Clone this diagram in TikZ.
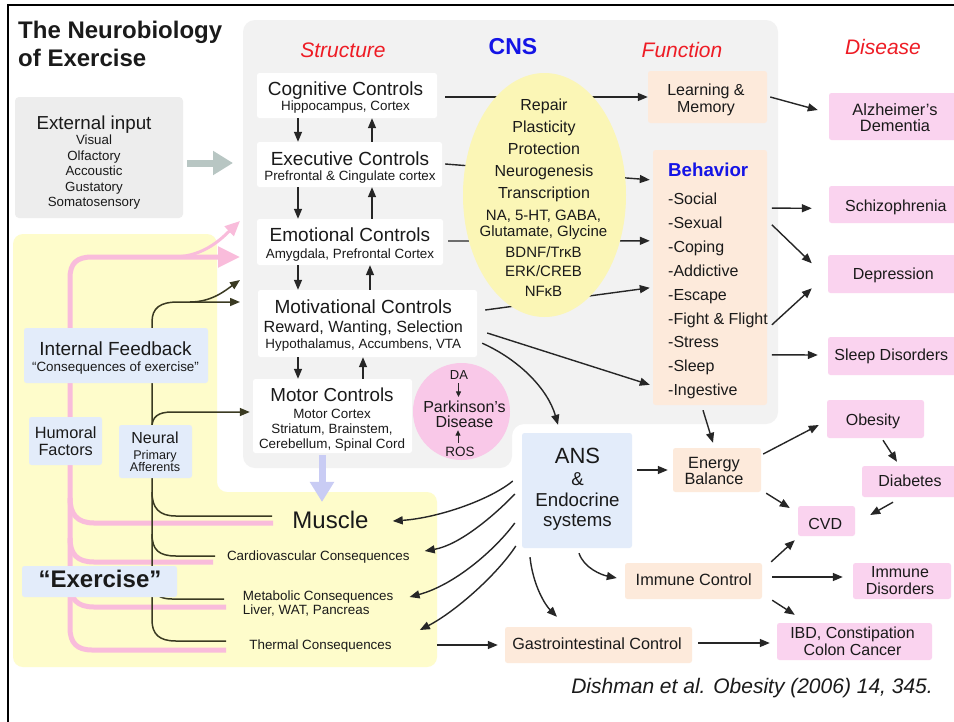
\documentclass[tikz,border=0pt]{standalone}
\usepackage{fontspec}
\setmainfont{Liberation Sans}
\usetikzlibrary{arrows.meta,calc,shapes.geometric}
\newcommand\myfs[2]{\fontsize{#1pt}{#2pt}\selectfont}
\newcommand\tightlines{\lineskiplimit=-30pt\relax}
\definecolor{panelgray}{HTML}{F2F2F2}
\definecolor{extgray}{HTML}{EDEDED}
\definecolor{ylw}{HTML}{FEFCCB}
\definecolor{ellip}{HTML}{FBF6B6}
\definecolor{peach}{HTML}{FDEADB}
\definecolor{pinkbox}{HTML}{FAD3EF}
\definecolor{lblue}{HTML}{E3ECFA}
\definecolor{parkpink}{HTML}{F9C8E8}
\definecolor{pinkline}{HTML}{F9BCDB}
\definecolor{greyarr}{HTML}{B8C6C3}
\definecolor{lavarr}{HTML}{C9CCF4}
\definecolor{headred}{HTML}{EE1C25}
\definecolor{headblue}{HTML}{1414E6}
\definecolor{txt}{HTML}{1A1A1A}
\definecolor{neur}{HTML}{3A3A22}
\begin{document}
\begin{tikzpicture}[x=1pt,y=-1pt,
  bx/.style={rectangle, rounded corners=2.5pt, inner sep=0pt, draw=none},
  boxsize/.style 2 args={minimum width=#1pt, minimum height=#2pt},
  sbox/.style={bx, fill=white},
  fbox/.style={bx, fill=peach},
  dbox/.style={bx, fill=pinkbox},
  bbox/.style={bx, fill=lblue},
  tx/.style={inner sep=0pt, align=center, text=txt},
  arr/.style={draw=black!85, line width=1.4pt, -{Triangle[length=10pt,width=8pt]}},
  sarr/.style={draw=black!85, line width=1pt, -{Triangle[length=5.5pt,width=5pt]}},
  nln/.style={draw=neur, line width=1.5pt},
  narr/.style={nln, -{Triangle[length=10pt,width=8pt]}},
  pln/.style={draw=pinkline, line width=5pt},
  head/.style={inner sep=0pt, font=\itshape\myfs{21}{21}, text=headred},
]
\useasboundingbox (0,0) rectangle (954,721);
\fill[white] (0,0) rectangle (954,721);
\draw[line width=2.2pt] (960,5) -- (8,5) -- (8,730);

% panels
\fill[panelgray, rounded corners=12pt] (243,20) -- (778,20) -- (778,424) -- (512,424) -- (512,468) -- (243,468) -- cycle;
\fill[ylw, rounded corners=10pt] (13,234) -- (217,234) -- (217,492) -- (437,492) -- (437,667) -- (13,667) -- cycle;

% title and headings
\node[tx, align=left, anchor=west, font=\bfseries\myfs{24}{28}] (title) at (18,43.9) {The Neurobiology\\of Exercise};
\node[head] (hstruct) at (343,50) {Structure};
\node[inner sep=0pt, font=\bfseries\myfs{23}{23}, text=headblue] (hcns) at (513,46.7) {CNS};
\node[head] (hfunc) at (682,49.5) {Function};
\node[head] (hdis) at (883,46.7) {Disease};

% external input
\node[bx, fill=extgray, rounded corners=4pt, boxsize={168}{121}] (ext) at (99,157.5) {};
\node[tx, font=\myfs{13.3}{15.4}] (extT) at (94,162.5) {{\myfs{18.8}{18.8}External input}\\Visual\\Olfactory\\Accoustic\\Gustatory\\Somatosensory};
\coordinate (gA) at (233,163);
\draw[draw=greyarr, line width=7pt, -{Triangle[length=20pt,width=23pt]}] ($(ext.east)+(4,5.5)$) -- (gA);

% structure boxes
\node[sbox, boxsize={180}{45}] (cog) at (347,95.5) {};
\node[tx, font=\myfs{13.4}{15}] (cogT) at (345.5,97.8) {{\myfs{19}{19}Cognitive Controls}\\Hippocampus, Cortex};
\node[sbox, boxsize={185}{45}] (exe) at (349.5,164.5) {};
\node[tx, font=\myfs{13.4}{15.4}] (exeT) at (350,167.3) {{\myfs{19}{19}Executive Controls}\\Prefrontal \& Cingulate cortex};
\node[sbox, boxsize={186}{46}] (emo) at (350,242) {};
\node[tx, font=\myfs{13.4}{16.3}] (emoT) at (350,244.4) {{\myfs{19}{19}Emotional Controls}\\Amygdala, Prefrontal Cortex};
\node[sbox, boxsize={219}{67}] (mot) at (367.5,323.5) {};
\node[tx, font=\myfs{13.4}{15.6}] (motT) at (363.3,325.3) {{\myfs{19}{19}Motivational Controls}\\[3.4pt]{\myfs{16.2}{16.2}Reward, Wanting, Selection}\\Hypothalamus, Accumbens, VTA};
\node[sbox, boxsize={159}{74}] (motor) at (332.5,416) {};
\node[tx, font=\myfs{13.4}{15.3}] (motorT) at (332,419.8) {{\myfs{18.8}{18.8}Motor Controls}\\[1.1pt]Motor Cortex\\Striatum, Brainstem,\\Cerebellum, Spinal Cord};

% function boxes
\node[fbox, boxsize={119}{52}] (lm) at (707.5,97) {};
\node[tx, font=\myfs{16}{17}] (lmT) at (706,100) {Learning \&\\Memory};
\node[fbox, boxsize={114}{255}] (beh) at (710,277.5) {};
\node[tx, align=left, anchor=west, font=\myfs{16}{23.9}] (behT) at (668,281) {{\bfseries\color{headblue}\myfs{18.7}{18.7}Behavior}\\[4.1pt]-Social\\-Sexual\\-Coping\\-Addictive\\-Escape\\-Fight \& Flight\\-Stress\\-Sleep\\-Ingestive};
\node[bbox, boxsize={110}{115}] (ans) at (577,490.5) {};
\node[tx, font=\myfs{18.7}{20.3}] (ansT) at (577.5,489.3) {{\myfs{22}{22}ANS}\\[1.8pt]\&\\Endocrine\\systems};
\node[fbox, boxsize={88}{44}] (eb) at (717,470) {};
\node[tx, font=\myfs{16.3}{16}] (ebT) at (714,471) {Energy\\Balance};
\node[fbox, boxsize={137}{36}] (imm) at (693.5,581) {};
\node[tx, font=\myfs{16.3}{16.3}] (immT) at (693.7,580) {Immune Control};
\node[fbox, boxsize={187}{36}] (gas) at (598.5,645) {};
\node[tx, font=\myfs{16.2}{16.2}] (gasT) at (597,643.3) {Gastrointestinal Control};

% disease boxes
\node[dbox, boxsize={129}{47}] (alz) at (893.5,116.5) {};
\node[tx, font=\myfs{16.4}{16.7}] (alzT) at (895,117.5) {Alzheimer's\\Dementia};
\node[dbox, boxsize={129}{37}] (sch) at (893.5,204.5) {};
\node[tx, font=\myfs{16}{16}] (schT) at (895.8,207.6) {Schizophrenia};
\node[dbox, boxsize={130}{38}] (dep) at (893,274) {};
\node[tx, font=\myfs{16}{16}] (depT) at (893.3,275) {Depression};
\node[dbox, boxsize={130}{38}] (slp) at (893,356) {};
\node[tx, font=\myfs{16}{16}] (slpT) at (891.3,356) {Sleep Disorders};
\node[dbox, boxsize={97}{38}] (obe) at (875.5,419) {};
\node[tx, font=\myfs{16}{16}] (obeT) at (873,421.6) {Obesity};
\node[dbox, boxsize={96}{31}] (dia) at (910,481.5) {};
\node[tx, font=\myfs{16}{16}] (diaT) at (910,481) {Diabetes};
\node[dbox, boxsize={57}{30}] (cvd) at (826.5,521) {};
\node[tx, font=\myfs{16}{16}] (cvdT) at (825.3,524.3) {CVD};
\node[dbox, boxsize={98}{36}] (imd) at (902,581) {};
\node[tx, font=\myfs{16}{16.7}] (imdT) at (900,580.5) {Immune\\Disorders};
\node[dbox, boxsize={155}{37}] (ibd) at (854.5,641.5) {};
\node[tx, font=\myfs{16}{16.7}] (ibdT) at (852.5,641.5) {IBD, Constipation\\Colon Cancer};

% muscle panel texts
\node[tx, font=\myfs{24}{24}] (muscle) at (330.5,520) {Muscle};
\node[tx, font=\myfs{13.4}{13.4}] (cardio) at (318.3,557) {Cardiovascular Consequences};
\node[tx, align=left, anchor=west, font=\myfs{13.4}{14}] (meta) at (242.7,603.5) {Metabolic Consequences\\Liver, WAT, Pancreas};
\node[tx, font=\myfs{13.4}{13.4}] (thermal) at (320.5,645.6) {Thermal Consequences};

% pink lines (humoral)
\coordinate (pA) at (240,257);
\coordinate (pB) at (240,221);
\draw[pln, -{Triangle[length=22pt,width=20pt]}] (226,650) -- (92,650) .. controls (77,650) and (70,643) .. (70,628) -- (70,278) .. controls (70,263) and (77,257) .. (92,257) -- (pA);
\draw[draw=pinkline, line width=3pt, -{Triangle[length=15pt,width=13pt]}] (175,257) .. controls (205,256) and (222,238) .. (pB);
\draw[pln] (70,498) .. controls (70,514) and (77,523) .. (94,523) -- (273,523);
\draw[pln] (70,538) .. controls (70,554) and (77,562) .. (94,562) -- (213,562);
\draw[pln] (70,583) .. controls (70,599) and (77,607) .. (94,607) -- (226,607);

% neural lines
\coordinate (nA) at (240,302);
\coordinate (nB) at (240,280);
\draw[narr] (226,641) -- (176,641) .. controls (159,641) and (152,634) .. (152,620) -- (152,322) .. controls (152,308) and (160,302) .. (178,302) -- (nA);
\draw[narr] (190,302) .. controls (212,302) and (226,290) .. (nB);
\draw[narr] (152,427) .. controls (152,417) and (158,412) .. (172,412) -- ($(motor.west)+(-3,-4)$);
\draw[nln] (152,492) .. controls (152,508) and (159,516) .. (176,516) -- (272,516);
\draw[nln] (152,534) .. controls (152,550) and (159,556) .. (176,556) -- (215,556);
\draw[nln] (152,580) .. controls (152,593) and (158,599) .. (172,599) -- (224,599);

% left boxes
\node[bbox, boxsize={184}{55}] (ifb) at (116,355.5) {};
\node[tx, font=\myfs{13.4}{16.4}] (ifbT) at (115.5,357.8) {{\myfs{19}{19}Internal Feedback}\\“Consequences of exercise”};
\node[bbox, boxsize={73}{48}] (hum) at (65.5,441) {};
\node[tx, font=\myfs{16.3}{17}] (humT) at (65.7,440.7) {Humoral\\Factors};
\node[bbox, boxsize={73}{53}] (neu) at (155.5,451.5) {};
\node[tx, font=\tightlines\myfs{12.6}{11.7}] (neuT) at (155,451.8) {{\myfs{16}{16}Neural}\\[4.5pt]Primary\\Afferents};
\node[bbox, boxsize={155}{31}] (exb) at (99.5,581.5) {};
\node[tx, font=\bfseries\myfs{24}{24}] (exT) at (100,579.3) {“Exercise”};

% motor -> muscle
\draw[draw=lavarr, line width=7pt, -{Triangle[length=20pt,width=23pt]}] ($(motor.south)+(-10.5,2)$) -- ($(muscle.north)+(-8.5,-9)$);

% structure vertical arrows
\coordinate (xd) at (298,0);
\coordinate (xu1) at (372,0);
\coordinate (xu2) at (370,0);
\coordinate (xu3) at (363,0);
\draw[arr] (cog.south -| xd) -- (exe.north -| xd);
\draw[arr] (exe.north -| xu1) -- (cog.south -| xu1);
\draw[arr] (exe.south -| xd) -- (emo.north -| xd);
\draw[arr] (emo.north -| xu1) -- (exe.south -| xu1);
\draw[arr] (emo.south -| xd) -- (mot.north -| xd);
\draw[arr] (mot.north -| xu2) -- (emo.south -| xu2);
\draw[arr] (mot.south -| xd) -- (motor.north -| xd);
\draw[arr] (motor.north -| xu3) -- (mot.south -| xu3);

% structure -> function
\draw[arr] ($(cog.east)+(8,1.5)$) -- (lm.west);
\draw[arr] ($(exe.east)+(3,-0.5)$) -- ($(beh.north west)+(-3,30)$);
\draw[arr] ($(emo.east)+(5,-1)$) -- ($(beh.north west)+(-3,91)$);
\draw[arr] ($(mot.east)+(8,-13.5)$) -- ($(beh.north west)+(-3,138)$);
\draw[arr] ($(mot.east)+(10,9.5)$) -- ($(beh.north west)+(-3,235)$);
\draw[arr] ($(mot.south east)+(5,-14)$) .. controls +(38,17) and +(-10,-35) .. ($(ans.north)+(-19,-8)$);

% CNS ellipse
\node[ellipse, fill=ellip, minimum width=163pt, minimum height=244pt, inner sep=0pt] (ell) at (544.5,195) {};
\node[tx, font=\myfs{16}{22}] (ellT1) at (544,150.5) {Repair\\Plasticity\\Protection\\Neurogenesis\\Transcription};
\node[tx, font=\myfs{15}{19.5}] (ellT2) at (543.5,253) {NA, 5-HT, GABA,\\[-3.5pt]Glutamate, Glycine\\[1.5pt]BDNF/TrκB\\[-0.5pt]ERK/CREB\\[0.5pt]NFκB};

% Parkinson
\node[circle, fill=parkpink, minimum size=97pt, inner sep=0pt] (park) at (461.5,411.5) {};
\node[tx, font=\myfs{13}{13}] (da) at (459,375) {DA};
\node[tx, font=\myfs{16}{15}] (parkT) at (464.5,414) {Parkinson's\\Disease};
\node[tx, font=\myfs{13.5}{13.5}] (ros) at (460,451.7) {ROS};
\draw[sarr] ($(da.south)+(-0.5,3.5)$) -- ($(parkT.north)+(-6,-3.5)$);
\draw[sarr] ($(ros.north)+(-2,-3.9)$) -- ($(parkT.south)+(-6.5,2.6)$);

% function -> disease
\draw[arr] ($(lm.east)+(3,0)$) -- ($(alz.west)+(-11,-6.5)$);
\draw[arr] ($(beh.north east)+(4.7,58.3)$) -- ($(sch.west)+(-17,3.8)$);
\draw[arr] ($(beh.north east)+(4.7,75)$) -- ($(dep.west)+(-16,-10.7)$);
\draw[arr] ($(beh.north east)+(4.7,175)$) -- ($(dep.west)+(-16,14.3)$);
\draw[arr] ($(beh.north east)+(4.7,205)$) -- ($(slp.west)+(-10,-1)$);
\draw[arr] ($(beh.south)+(-7,5)$) -- ($(eb.north)+(-4,-5)$);

% ANS outputs
\draw[arr] ($(ans.east)+(5,-20.5)$) -- ($(eb.west)+(-5,0)$);
\draw[arr] ($(ans.west)+(-9,-9.5)$) .. controls +(-23,19) and +(45,-3) .. ($(muscle.east)+(24,1)$);
\draw[arr] ($(ans.west)+(-7,3.5)$) .. controls +(-20,21) and +(35,-6) .. ($(cardio.east)+(15,-6)$);
\draw[arr] ($(ans.west)+(-7,32.5)$) .. controls +(-20,27) and +(45,-12) .. ($(meta.east)+(16,-6.5)$);
\draw[arr] ($(ans.west)+(-6,55.5)$) .. controls +(-19,29) and +(35,-18) .. ($(thermal.east)+(28,-15.6)$);
\draw[arr] ($(ans.south)+(-47,9)$) .. controls +(3,28) and +(-12,-12) .. ($(gas.north)+(-41.5,-10)$);
\draw[arr] ($(ans.south)+(2,5)$) .. controls +(5,15) and +(-15,-3) .. ($(imm.west)+(-8,-3)$);
\draw[arr] ($(thermal.east)+(45,-0.6)$) -- ($(gas.west)+(-7,0)$);

% lower function -> disease
\draw[arr] ($(eb.east)+(2,-16)$) -- ($(obe.west)+(-8,6)$);
\draw[arr] ($(eb.south east)+(5,1)$) -- ($(cvd.west)+(-8,-13)$);
\draw[arr] ($(obe.south)+(7.5,2)$) -- ($(dia.north)+(-13,-4)$);
\draw[arr] ($(dia.south)+(-17,5)$) -- ($(cvd.east)+(15,-6)$);
\draw[arr] ($(imm.north east)+(9,-1)$) -- ($(cvd.south west)+(-3,4)$);
\draw[arr] ($(imm.east)+(10,-4)$) -- ($(imd.west)+(-10,-4)$);
\draw[arr] ($(imm.south east)+(10,1)$) -- ($(ibd.north west)+(18,-8)$);
\draw[arr] ($(gas.east)+(6,-2)$) -- ($(ibd.west)+(-7,1.5)$);

% citation
\node[inner sep=0pt, anchor=east, font=\itshape\myfs{21}{21}, text=txt] (cite) at (933,688.5) {Dishman et al. Obesity (2006) 14, 345.};
\end{tikzpicture}
\end{document}
